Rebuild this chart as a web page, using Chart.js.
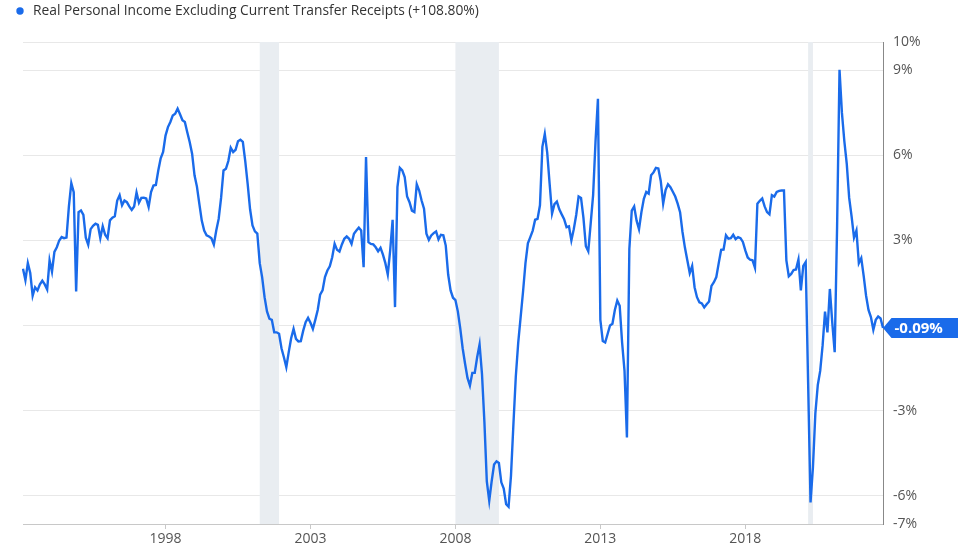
<!DOCTYPE html>
<html><head><meta charset="utf-8">
<script src="https://cdn.jsdelivr.net/npm/chart.js@4.4.1/dist/chart.umd.min.js"></script>
<style>html,body{margin:0;padding:0;background:#fff;}#wrap{position:relative;width:962px;height:555px;}</style>
</head><body><div id="wrap"><canvas id="c" width="962" height="555"></canvas></div>
<script>
const seriesName = 'Real Personal Income Excluding Current Transfer Receipts (+108.80%)';
const startYear = 1993, startMonth = 2;
const values = [
  2.0, 1.6, 2.2, 1.85, 1.05, 1.35, 1.24, 1.45, 1.58, 1.45, 1.27, 2.3,
  1.9, 2.6, 2.76, 3.0, 3.12, 3.08, 3.1, 4.2, 5.02, 4.7, 1.2, 4.0,
  4.06, 3.9, 3.1, 2.85, 3.4, 3.52, 3.59, 3.55, 3.08, 3.5, 3.2, 3.08,
  3.71, 3.8, 3.85, 4.41, 4.6, 4.24, 4.41, 4.35, 4.2, 4.08, 4.2, 4.69,
  4.33, 4.5, 4.51, 4.48, 4.18, 4.71, 4.94, 4.96, 5.47, 5.9, 6.12, 6.7,
  7.0, 7.18, 7.41, 7.47, 7.65, 7.45, 7.24, 7.18, 6.82, 6.47, 6.06, 5.3,
  4.9, 4.29, 3.7, 3.35, 3.18, 3.14, 3.08, 2.86, 3.35, 3.76, 4.5, 5.47,
  5.53, 5.8, 6.27, 6.12, 6.2, 6.5, 6.55, 6.48, 5.8, 5.0, 4.1, 3.53,
  3.32, 3.24, 2.2, 1.7, 1.0, 0.5, 0.24, 0.2, -0.24, -0.24, -0.29, -0.8,
  -1.12, -1.47, -0.94, -0.45, -0.12, -0.47, -0.56, -0.55, -0.18, 0.12, 0.27, 0.1,
  -0.12, 0.2, 0.55, 1.09, 1.24, 1.71, 1.94, 2.09, 2.41, 2.88, 2.67, 2.61,
  2.86, 3.06, 3.14, 3.06, 2.88, 3.24, 3.35, 3.45, 3.35, 2.06, 5.94, 2.94,
  2.88, 2.86, 2.76, 2.62, 2.74, 2.5, 2.2, 1.8, 2.65, 3.73, 0.65, 4.88,
  5.56, 5.47, 5.24, 4.55, 4.35, 4.05, 4.0, 4.98, 4.76, 4.41, 4.12, 3.24,
  3.02, 3.18, 3.26, 3.32, 3.04, 3.2, 3.18, 2.82, 1.8, 1.24, 0.98, 0.9,
  0.5, -0.1, -0.8, -1.35, -1.85, -2.12, -1.67, -1.67, -1.12, -0.67, -1.71, -3.4,
  -5.5, -6.18, -5.5, -4.9, -4.79, -4.85, -5.53, -5.75, -6.3, -6.39, -5.3, -3.5,
  -1.8, -0.6, 0.3, 1.2, 2.2, 2.9, 3.12, 3.35, 3.73, 3.76, 4.24, 6.3,
  6.76, 6.1, 5.0, 3.95, 4.28, 4.37, 4.1, 3.92, 3.75, 3.47, 3.5, 3.0,
  3.4, 3.9, 4.55, 4.5, 3.8, 2.8, 2.62, 3.6, 4.6, 6.5, 8.0, 0.2,
  -0.55, -0.6, -0.3, 0.0, 0.06, 0.55, 0.88, 0.7, -0.6, -1.6, -3.95, 2.7,
  4.05, 4.2, 3.7, 3.4, 4.0, 4.47, 4.71, 4.65, 5.3, 5.4, 5.56, 5.54,
  5.1, 4.3, 4.78, 4.98, 4.88, 4.72, 4.55, 4.3, 4.0, 3.3, 2.75, 2.3,
  1.85, 2.1, 1.35, 1.0, 0.82, 0.78, 0.64, 0.75, 0.85, 1.4, 1.53, 1.71,
  2.2, 2.67, 2.68, 3.18, 3.06, 3.08, 3.2, 3.05, 3.12, 3.08, 2.95, 2.65,
  2.4, 2.32, 2.3, 2.04, 4.3, 4.4, 4.48, 4.2, 4.0, 3.92, 4.6, 4.55,
  4.71, 4.75, 4.76, 4.76, 2.3, 1.74, 1.82, 1.96, 1.98, 2.33, 1.24, 2.1,
  2.24, -2.0, -6.24, -5.0, -3.1, -2.1, -1.6, -0.7, 0.49, -0.24, 1.29, 0.1,
  -0.94, 3.5, 9.02, 7.5, 6.5, 5.7, 4.5, 3.85, 3.1, 3.35, 2.2, 2.38,
  1.75, 1.05, 0.55, 0.3, -0.15, 0.2, 0.32, 0.25, -0.09
];
const yTickValues = [10, 9, 6, 3, 0, -3, -6, -7];
const xTickLabels = ['1998', '2003', '2008', '2013', '2018'];
const recessionStart = ['2001-04', '2008-01', '2020-03'];
const recessionEnd = ['2001-12', '2009-07', '2020-05'];

const months = values.map((_, i) => {
  const m = startMonth - 1 + i;
  return (startYear + Math.floor(m / 12)) + '-' + String(m % 12 + 1).padStart(2, '0');
});

const BLUE = '#1a6bea';
const FONT = "'Open Sans', 'Noto Sans', sans-serif";

const overlay = {
  id: 'overlay',
  beforeDatasetsDraw(chart) {
    const { ctx, chartArea: a, scales: { x } } = chart;
    ctx.save();
    ctx.fillStyle = '#e9edf1';
    recessionStart.forEach((s, k) => {
      const x0 = x.getPixelForValue(months.indexOf(s));
      const x1 = x.getPixelForValue(months.indexOf(recessionEnd[k]));
      ctx.fillRect(x0, a.top, x1 - x0, a.bottom - a.top);
    });
    ctx.restore();
  },
  afterDraw(chart) {
    const { ctx, chartArea: a, scales: { y } } = chart;
    ctx.save();
    // legend
    ctx.fillStyle = BLUE;
    ctx.beginPath(); ctx.arc(20, 11, 3.7, 0, Math.PI * 2); ctx.fill();
    ctx.fillStyle = '#333';
    ctx.font = '13.8px ' + FONT;
    ctx.textBaseline = 'middle';
    ctx.textAlign = 'left';
    ctx.fillText(seriesName, 33, 11);
    // last value badge
    const last = values[values.length - 1];
    const yy = y.getPixelForValue(last);
    const x0 = a.right, bx = a.right + 8.5, bw = 958 - bx, h = 20;
    ctx.fillStyle = BLUE;
    ctx.beginPath();
    ctx.moveTo(x0, yy);
    ctx.lineTo(bx, yy - h / 2);
    ctx.lineTo(bx + bw, yy - h / 2);
    ctx.lineTo(bx + bw, yy + h / 2);
    ctx.lineTo(bx, yy + h / 2);
    ctx.closePath();
    ctx.fill();
    ctx.fillStyle = '#fff';
    ctx.font = 'bold 15px ' + FONT;
    ctx.fillText(last.toFixed(2) + '%', bx + 3, yy + 0.5);
    ctx.restore();
  }
};

new Chart(document.getElementById('c'), {
  type: 'line',
  data: {
    labels: months,
    datasets: [{
      label: seriesName,
      data: values,
      borderColor: BLUE,
      borderWidth: 2.4,
      pointRadius: 0,
      tension: 0,
      fill: false
    }]
  },
  options: {
    responsive: false,
    animation: false,
    devicePixelRatio: 1,
    layout: { padding: { top: 42, left: 23, right: 0, bottom: 7 } },
    plugins: { legend: { display: false }, tooltip: { enabled: false } },
    scales: {
      x: {
        type: 'category',
        offset: false,
        afterBuildTicks(scale) {
          scale.ticks = scale.ticks.filter(t => xTickLabels.map(l => l + '-01').includes(months[t.value]));
        },
        afterFit(scale) { scale.height = 24; },
        ticks: {
          autoSkip: false, maxRotation: 0, padding: 2,
          color: '#555', font: { family: FONT, size: 14 },
          callback: (v) => months[v].slice(0, 4)
        },
        grid: { drawOnChartArea: false, drawTicks: true, tickLength: 5, color: '#c8c8c8' },
        border: { display: true, color: '#c8c8c8', width: 1 }
      },
      y: {
        position: 'right',
        min: -7, max: 10,
        afterBuildTicks(scale) { scale.ticks = yTickValues.map(v => ({ value: v })); },
        afterFit(scale) { scale.width = 79; },
        ticks: {
          padding: 10, color: '#555', font: { family: FONT, size: 14 },
          callback: (v) => v + '%'
        },
        grid: { color: '#e8e8e8', drawTicks: false },
        border: { display: true, color: '#888', width: 1 }
      }
    }
  },
  plugins: [overlay]
});
</script></body></html>
